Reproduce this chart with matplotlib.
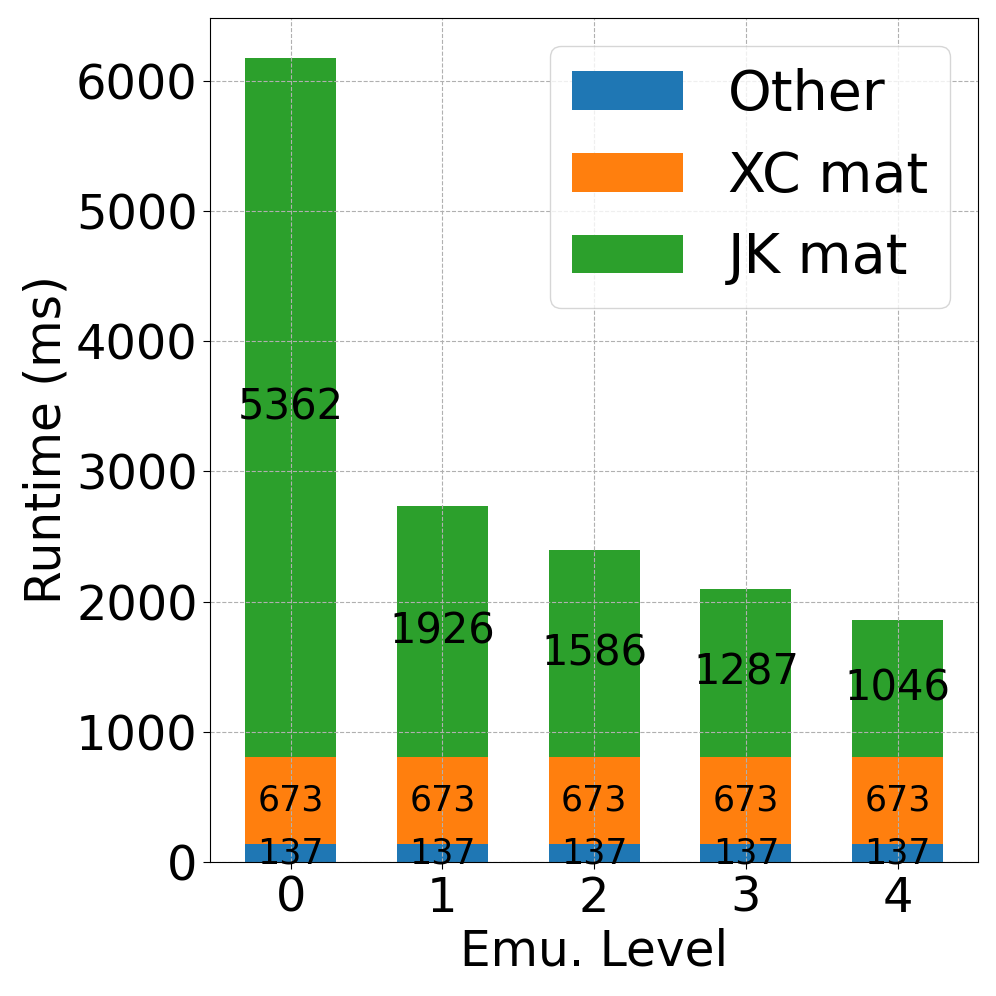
import numpy as np
import matplotlib
matplotlib.use('Agg')
import matplotlib.pyplot as plt

levels = [0, 1, 2, 3, 4]
other = [137, 137, 137, 137, 137]
xc_mat = [673, 673, 673, 673, 673]
jk_mat = [5362, 1926, 1586, 1287, 1046]

fig = plt.figure(figsize=(9.96, 9.96), dpi=100)
ax = fig.add_axes([0.211, 0.1345, 0.771, 0.8475])

x = np.array(levels)
other = np.array(other)
xc_mat = np.array(xc_mat)
jk_mat = np.array(jk_mat)

b1 = ax.bar(x, other, 0.6, label='Other')
b2 = ax.bar(x, xc_mat, 0.6, bottom=other, label='XC mat')
b3 = ax.bar(x, jk_mat, 0.6, bottom=other + xc_mat, label='JK mat')

ax.bar_label(b1, label_type='center', fontsize=25)
ax.bar_label(b2, label_type='center', fontsize=25)
ax.bar_label(b3, label_type='center', fontsize=30)

ax.grid(linestyle='--')
ax.set_xticks(levels)
ax.tick_params(labelsize=34.5, length=5, pad=4)
ax.set_xlabel('Emu. Level', fontsize=35)
ax.set_ylabel('Runtime (ms)', fontsize=35)
ax.legend(fontsize=40, loc='upper right')

plt.savefig('out.png', dpi=100)
